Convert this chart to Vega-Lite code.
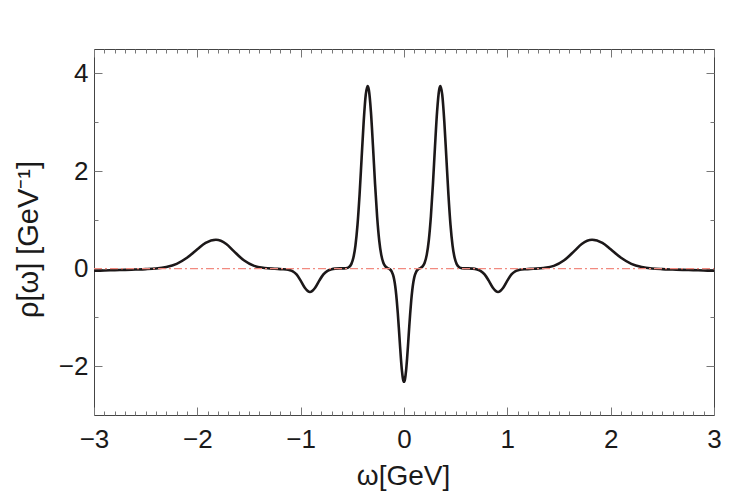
{
  "$schema": "https://vega.github.io/schema/vega-lite/v6.json",
  "width": 620,
  "height": 366,
  "autosize": {"type": "none"},
  "padding": {"left": 94, "top": 49, "right": 33, "bottom": 83},
  "background": "white",
  "config": {
    "view": {"stroke": "#444444", "strokeWidth": 1},
    "axis": {
      "domain": false,
      "grid": false,
      "labelFont": "Liberation Sans",
      "labelFontSize": 26,
      "labelColor": "#1a1a1a",
      "titleFont": "Liberation Sans",
      "titleFontSize": 28,
      "titleFontWeight": "normal",
      "titleColor": "#1a1a1a",
      "tickColor": "#777777",
      "tickWidth": 1,
      "labelFlush": false,
      "labelOverlap": false,
      "labelBound": false
    }
  },
  "layer": [
    {
      "data": {
        "values": [
          {"w": -3.0, "rho": -0.045}, {"w": -2.9, "rho": -0.039}, {"w": -2.8, "rho": -0.032}, {"w": -2.7, "rho": -0.026},
          {"w": -2.6, "rho": -0.019}, {"w": -2.5, "rho": -0.011}, {"w": -2.4, "rho": 0.003}, {"w": -2.3, "rho": 0.034},
          {"w": -2.2, "rho": 0.098}, {"w": -2.1, "rho": 0.222}, {"w": -2.0, "rho": 0.395}, {"w": -1.92, "rho": 0.525},
          {"w": -1.82, "rho": 0.59}, {"w": -1.72, "rho": 0.505}, {"w": -1.65, "rho": 0.364}, {"w": -1.55, "rho": 0.17},
          {"w": -1.45, "rho": 0.056}, {"w": -1.35, "rho": 0.013}, {"w": -1.25, "rho": -0.003}, {"w": -1.18, "rho": -0.012},
          {"w": -1.12, "rho": -0.025}, {"w": -1.08, "rho": -0.05}, {"w": -1.04, "rho": -0.12}, {"w": -1.0, "rho": -0.247},
          {"w": -0.96, "rho": -0.391}, {"w": -0.91, "rho": -0.48}, {"w": -0.86, "rho": -0.391}, {"w": -0.82, "rho": -0.247},
          {"w": -0.78, "rho": -0.12}, {"w": -0.74, "rho": -0.045}, {"w": -0.7, "rho": -0.012}, {"w": -0.66, "rho": 0.0},
          {"w": -0.62, "rho": 0.004}, {"w": -0.58, "rho": 0.004}, {"w": -0.54, "rho": 0.02}, {"w": -0.51, "rho": 0.092},
          {"w": -0.49, "rho": 0.221}, {"w": -0.47, "rho": 0.472}, {"w": -0.45, "rho": 0.897}, {"w": -0.43, "rho": 1.514},
          {"w": -0.41, "rho": 2.268}, {"w": -0.39, "rho": 3.018}, {"w": -0.37, "rho": 3.564}, {"w": -0.352, "rho": 3.74},
          {"w": -0.34, "rho": 3.661}, {"w": -0.32, "rho": 3.212}, {"w": -0.3, "rho": 2.502}, {"w": -0.28, "rho": 1.731},
          {"w": -0.26, "rho": 1.063}, {"w": -0.24, "rho": 0.58}, {"w": -0.22, "rho": 0.281}, {"w": -0.2, "rho": 0.121},
          {"w": -0.18, "rho": 0.046}, {"w": -0.16, "rho": 0.013}, {"w": -0.14, "rho": -0.01}, {"w": -0.12, "rho": -0.055},
          {"w": -0.1, "rho": -0.175}, {"w": -0.09, "rho": -0.286}, {"w": -0.08, "rho": -0.444}, {"w": -0.07, "rho": -0.654},
          {"w": -0.06, "rho": -0.915}, {"w": -0.05, "rho": -1.216}, {"w": -0.04, "rho": -1.535}, {"w": -0.03, "rho": -1.839},
          {"w": -0.02, "rho": -2.092}, {"w": -0.01, "rho": -2.261}, {"w": 0.0, "rho": -2.32},
          {"w": 0.01, "rho": -2.261}, {"w": 0.02, "rho": -2.092}, {"w": 0.03, "rho": -1.839}, {"w": 0.04, "rho": -1.535},
          {"w": 0.05, "rho": -1.216}, {"w": 0.06, "rho": -0.915}, {"w": 0.07, "rho": -0.654}, {"w": 0.08, "rho": -0.444},
          {"w": 0.09, "rho": -0.286}, {"w": 0.1, "rho": -0.175}, {"w": 0.12, "rho": -0.055}, {"w": 0.14, "rho": -0.01},
          {"w": 0.16, "rho": 0.013}, {"w": 0.18, "rho": 0.046}, {"w": 0.2, "rho": 0.121}, {"w": 0.22, "rho": 0.281},
          {"w": 0.24, "rho": 0.58}, {"w": 0.26, "rho": 1.063}, {"w": 0.28, "rho": 1.731}, {"w": 0.3, "rho": 2.502},
          {"w": 0.32, "rho": 3.212}, {"w": 0.34, "rho": 3.661}, {"w": 0.352, "rho": 3.74}, {"w": 0.37, "rho": 3.564},
          {"w": 0.39, "rho": 3.018}, {"w": 0.41, "rho": 2.268}, {"w": 0.43, "rho": 1.514}, {"w": 0.45, "rho": 0.897},
          {"w": 0.47, "rho": 0.472}, {"w": 0.49, "rho": 0.221}, {"w": 0.51, "rho": 0.092}, {"w": 0.54, "rho": 0.02},
          {"w": 0.58, "rho": 0.004}, {"w": 0.62, "rho": 0.004}, {"w": 0.66, "rho": 0.0}, {"w": 0.7, "rho": -0.012},
          {"w": 0.74, "rho": -0.045}, {"w": 0.78, "rho": -0.12}, {"w": 0.82, "rho": -0.247}, {"w": 0.86, "rho": -0.391},
          {"w": 0.91, "rho": -0.48}, {"w": 0.96, "rho": -0.391}, {"w": 1.0, "rho": -0.247}, {"w": 1.04, "rho": -0.12},
          {"w": 1.08, "rho": -0.05}, {"w": 1.12, "rho": -0.025}, {"w": 1.18, "rho": -0.012}, {"w": 1.25, "rho": -0.003},
          {"w": 1.35, "rho": 0.013}, {"w": 1.45, "rho": 0.056}, {"w": 1.55, "rho": 0.17}, {"w": 1.65, "rho": 0.364},
          {"w": 1.72, "rho": 0.505}, {"w": 1.82, "rho": 0.59}, {"w": 1.92, "rho": 0.525}, {"w": 2.0, "rho": 0.395},
          {"w": 2.1, "rho": 0.222}, {"w": 2.2, "rho": 0.098}, {"w": 2.3, "rho": 0.034}, {"w": 2.4, "rho": 0.003},
          {"w": 2.5, "rho": -0.011}, {"w": 2.6, "rho": -0.019}, {"w": 2.7, "rho": -0.026}, {"w": 2.8, "rho": -0.032},
          {"w": 2.9, "rho": -0.039}, {"w": 3.0, "rho": -0.045}
        ]
      },
      "mark": {"type": "line", "interpolate": "monotone", "color": "#1c1819", "strokeWidth": 2.6},
      "encoding": {
        "x": {
          "field": "w",
          "type": "quantitative",
          "scale": {"domain": [-3, 3], "nice": false, "zero": false},
          "axis": {
            "orient": "bottom",
            "values": [-3,-2.9,-2.8,-2.7,-2.6,-2.5,-2.4,-2.3,-2.2,-2.1,-2,-1.9,-1.8,-1.7,-1.6,-1.5,-1.4,-1.3,-1.2,-1.1,-1,-0.9,-0.8,-0.7,-0.6,-0.5,-0.4,-0.3,-0.2,-0.1,0,0.1,0.2,0.3,0.4,0.5,0.6,0.7,0.8,0.9,1,1.1,1.2,1.3,1.4,1.5,1.6,1.7,1.8,1.9,2,2.1,2.2,2.3,2.4,2.5,2.6,2.7,2.8,2.9,3],
            "tickSize": {"condition": {"test": "abs(datum.value - round(datum.value)) < 0.000001", "value": -8}, "value": -4},
            "labelExpr": "abs(datum.value - round(datum.value)) < 0.000001 ? format(round(datum.value), 'd') : ''",
            "labelPadding": 40,
            "labelBaseline": "alphabetic",
            "title": "ω[GeV]",
            "titleX": 309,
            "titleY": 69,
            "titleBaseline": "alphabetic",
            "titleAlign": "center"
          }
        },
        "y": {
          "field": "rho",
          "type": "quantitative",
          "scale": {"domain": [-3, 4.5], "nice": false, "zero": false},
          "axis": {
            "orient": "left",
            "values": [-2, -1, 0, 1, 2, 3, 4],
            "tickSize": {"condition": {"test": "datum.value % 2 === 0", "value": -8}, "value": -4},
            "labelExpr": "datum.value % 2 === 0 ? format(datum.value, 'd') : ''",
            "labelPadding": 14,
            "labelBaseline": "middle",
            "title": "ρ[ω] [GeV⁻¹]",
            "titleFontSize": 29,
            "titleX": -57,
            "titleY": 190,
            "titleAngle": -90,
            "titleBaseline": "alphabetic",
            "titleAlign": "center"
          }
        }
      }
    },
    {
      "data": {"values": [{"w": -3, "r": 0}, {"w": 3, "r": 0}]},
      "mark": {"type": "line", "color": "#f28a80", "strokeWidth": 1.3, "strokeDash": [8, 3, 2, 3]},
      "encoding": {
        "x": {
          "field": "w",
          "type": "quantitative",
          "scale": {"domain": [-3, 3], "nice": false, "zero": false},
          "axis": {
            "orient": "top",
            "values": [-3,-2.9,-2.8,-2.7,-2.6,-2.5,-2.4,-2.3,-2.2,-2.1,-2,-1.9,-1.8,-1.7,-1.6,-1.5,-1.4,-1.3,-1.2,-1.1,-1,-0.9,-0.8,-0.7,-0.6,-0.5,-0.4,-0.3,-0.2,-0.1,0,0.1,0.2,0.3,0.4,0.5,0.6,0.7,0.8,0.9,1,1.1,1.2,1.3,1.4,1.5,1.6,1.7,1.8,1.9,2,2.1,2.2,2.3,2.4,2.5,2.6,2.7,2.8,2.9,3],
            "tickSize": {"condition": {"test": "abs(datum.value - round(datum.value)) < 0.000001", "value": -8}, "value": -4},
            "labels": false,
            "title": null
          }
        },
        "y": {
          "field": "r",
          "type": "quantitative",
          "scale": {"domain": [-3, 4.5], "nice": false, "zero": false},
          "axis": {
            "orient": "right",
            "values": [-2, -1, 0, 1, 2, 3, 4],
            "tickSize": {"condition": {"test": "datum.value % 2 === 0", "value": -8}, "value": -4},
            "labels": false,
            "title": null
          }
        }
      }
    }
  ],
  "resolve": {"axis": {"x": "independent", "y": "independent"}}
}
